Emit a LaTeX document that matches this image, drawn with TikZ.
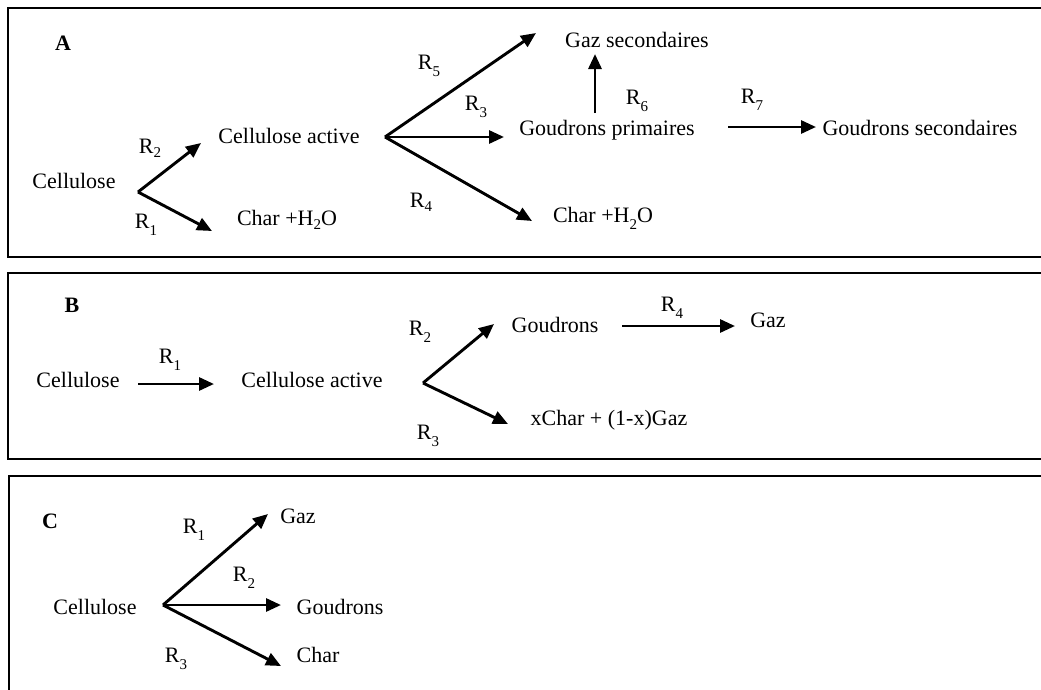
\documentclass[tikz,border=0pt]{standalone}
\usepackage{fontspec}
\setmainfont{Liberation Serif}
\usetikzlibrary{arrows.meta}
\newcommand{\sbs}[1]{\raisebox{-0.32em}{\fontsize{15}{15}\selectfont #1}}
\newcommand{\hsub}[1]{\raisebox{-0.2em}{\fontsize{15}{15}\selectfont #1}}
\begin{document}
\begin{tikzpicture}[x=1pt,y=-1pt,
  txt/.style={inner sep=0pt,text height=14pt,text depth=0pt,font=\fontsize{22}{26}\selectfont},
  rl/.style={inner sep=0pt,text height=14pt,text depth=0pt,font=\fontsize{22}{26}\selectfont},
  ttl/.style={inner sep=0pt,text height=14pt,text depth=0pt,font=\fontsize{22}{26}\selectfont\bfseries},
  rx/.style={-{Triangle[length=15pt,width=13pt]},line width=2.9pt},
  frame/.style={line width=2.4pt}]
\useasboundingbox (0,0) rectangle (1041,689);
% frames (open on the right)
\draw[frame] (1050,8) -- (8,8) -- (8,257) -- (1050,257);
\draw[frame] (1050,273) -- (8,273) -- (8,459) -- (1050,459);
\draw[frame] (1050,476) -- (9,476) -- (9,700);

% ---------- Panel A ----------
\node[ttl] (A) at (63,43) {A};
\node[txt] (a-cel) at (74,181) {Cellulose};
\node[txt] (a-ca) at (289,136) {Cellulose active};
\node[txt] (a-ch1) at (287,218) {Char +H\hsub{2}O};
\node[txt] (a-gs) at (637,40) {Gaz secondaires};
\node[txt] (a-gp) at (607,128) {Goudrons primaires};
\node[txt] (a-ch2) at (603,215) {Char +H\sbs{2}O};
\node[txt] (a-gsec) at (920,128) {Goudrons secondaires};
\node[rl] (a-r2) at (150,146) {R\hsub{2}};
\node[rl] (a-r1) at (146,221) {R\sbs{1}};
\node[rl] (a-r5) at (429,62) {R\sbs{5}};
\node[rl] (a-r3) at (476,103) {R\sbs{3}};
\node[rl] (a-r4) at (421,200) {R\hsub{4}};
\node[rl] (a-r6) at (637,97) {R\sbs{6}};
\node[rl] (a-r7) at (752,96) {R\sbs{7}};
\coordinate (a-v1) at (138,192);
\coordinate (a-t2) at (201,143);
\coordinate (a-t1) at (212,231);
\coordinate (a-v2) at (385,137);
\coordinate (a-t5) at (536,33);
\coordinate (a-t3) at (504,137);
\coordinate (a-t4) at (532,221);
\coordinate (a-s6) at (595,113);
\coordinate (a-t6) at (595,54);
\coordinate (a-s7) at (728,127);
\coordinate (a-t7) at (816,127);
\draw[rx] (a-v1) -- (a-t2);
\draw[rx] (a-v1) -- (a-t1);
\draw[rx] (a-v2) -- (a-t5);
\draw[rx] (a-v2) -- (a-t3);
\draw[rx] (a-v2) -- (a-t4);
\draw[rx] (a-s6) -- (a-t6);
\draw[rx] (a-s7) -- (a-t7);

% ---------- Panel B ----------
\node[ttl] (B) at (72,305) {B};
\node[txt] (b-cel) at (78,380) {Cellulose};
\node[txt] (b-ca) at (312,380) {Cellulose active};
\node[txt] (b-go) at (555,325) {Goudrons};
\node[txt] (b-gaz) at (768,320) {Gaz};
\node[txt] (b-xc) at (609,418) {xChar + (1-x)Gaz};
\node[rl] (b-r1) at (170,356) {R\sbs{1}};
\node[rl] (b-r2) at (420,328) {R\sbs{2}};
\node[rl] (b-r3) at (428,432) {R\sbs{3}};
\node[rl] (b-r4) at (672,304) {R\sbs{4}};
\coordinate (b-s1) at (138,384);
\coordinate (b-t1) at (214,384);
\coordinate (b-v) at (423,383);
\coordinate (b-t2) at (494,324);
\coordinate (b-t3) at (508,424);
\coordinate (b-s4) at (622,326);
\coordinate (b-t4) at (735,326);
\draw[rx] (b-s1) -- (b-t1);
\draw[rx] (b-v) -- (b-t2);
\draw[rx] (b-v) -- (b-t3);
\draw[rx] (b-s4) -- (b-t4);

% ---------- Panel C ----------
\node[ttl] (C) at (50,521) {C};
\node[txt] (c-cel) at (95,607) {Cellulose};
\node[txt] (c-gaz) at (298,516) {Gaz};
\node[txt] (c-go) at (340,607) {Goudrons};
\node[txt] (c-ch) at (318,655) {Char};
\node[rl] (c-r1) at (194,526) {R\sbs{1}};
\node[rl] (c-r2) at (244,574) {R\sbs{2}};
\node[rl] (c-r3) at (176,655) {R\sbs{3}};
\coordinate (c-v) at (163,605);
\coordinate (c-t1) at (268,514);
\coordinate (c-t2) at (281,605);
\coordinate (c-t3) at (281,666);
\draw[rx] (c-v) -- (c-t1);
\draw[rx] (c-v) -- (c-t2);
\draw[rx] (c-v) -- (c-t3);
\end{tikzpicture}
\end{document}
